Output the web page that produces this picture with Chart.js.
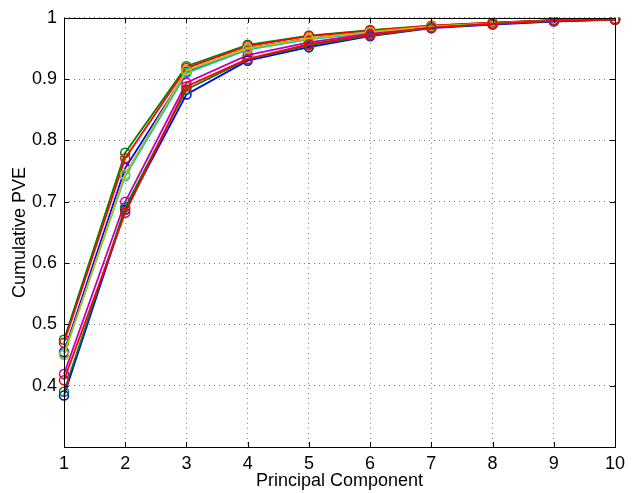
<!DOCTYPE html>
<html>
<head>
<meta charset="utf-8">
<script src="https://cdn.jsdelivr.net/npm/chart.js@4"></script>
<style>
    html, body { margin: 0; padding: 0; background: #fff; }
    #wrap { width: 636px; height: 493px; }
</style>
</head>
<body>
<div id="wrap"><canvas id="myChart" width="636" height="493"></canvas></div>
<script>
// principal component index
const components = [1, 2, 3, 4, 5, 6, 7, 8, 9, 10];

// cumulative PVE, one array per run
const blue1    = [0.455, 0.755, 0.912, 0.950, 0.966, 0.977, 0.986, 0.991, 0.996, 0.997];
const green1   = [0.475, 0.780, 0.921, 0.956, 0.971, 0.980, 0.987, 0.992, 0.996, 0.998];
const red1     = [0.470, 0.771, 0.918, 0.954, 0.970, 0.979, 0.987, 0.992, 0.996, 0.998];
const cyan1    = [0.452, 0.742, 0.910, 0.948, 0.965, 0.976, 0.985, 0.991, 0.995, 0.997];
const magenta1 = [0.419, 0.700, 0.894, 0.939, 0.960, 0.974, 0.984, 0.990, 0.995, 0.997];
const yellow1  = [0.450, 0.745, 0.914, 0.950, 0.966, 0.977, 0.986, 0.991, 0.995, 0.997];
const blue2    = [0.384, 0.687, 0.875, 0.930, 0.952, 0.970, 0.983, 0.989, 0.994, 0.997];
const green2   = [0.390, 0.691, 0.883, 0.932, 0.955, 0.971, 0.984, 0.990, 0.995, 0.997];
const red2     = [0.409, 0.682, 0.888, 0.933, 0.957, 0.972, 0.984, 0.990, 0.995, 0.997];

const yTicks = [0.4, 0.5, 0.6, 0.7, 0.8, 0.9, 1];

const font = { family: 'Liberation Sans, Arial, sans-serif', size: 18 };

const makeSet = (values, color) =>
{
    return {
        data: values,
        borderColor: color,
        backgroundColor: 'rgba(0,0,0,0)',
        borderWidth: 1.8,
        pointRadius: 4.5,
        pointBorderWidth: 1.5,
        pointBorderColor: color,
        pointBackgroundColor: 'rgba(0,0,0,0)',
        tension: 0
    };
};

// matlab-like box and inward tick marks
const boxPlugin =
{
    id: 'box',
    afterDraw(chart)
    {
        const ctx = chart.ctx;
        const a = chart.chartArea;
        const xs = chart.scales.x;
        const ys = chart.scales.y;
        ctx.save();
        ctx.strokeStyle = '#000';
        ctx.lineWidth = 1;
        ctx.beginPath();
        for (let i = 0; i < components.length; i++)
        {
            const px = Math.round(xs.getPixelForValue(i)) + 0.5;
            ctx.moveTo(px, a.bottom);
            ctx.lineTo(px, a.bottom - 5);
            ctx.moveTo(px, a.top);
            ctx.lineTo(px, a.top + 5);
        }
        for (let i = 0; i < yTicks.length; i++)
        {
            const py = Math.round(ys.getPixelForValue(yTicks[i])) + 0.5;
            ctx.moveTo(a.left, py);
            ctx.lineTo(a.left + 5, py);
            ctx.moveTo(a.right, py);
            ctx.lineTo(a.right - 5, py);
        }
        ctx.stroke();
        ctx.strokeRect(Math.round(a.left) + 0.5, Math.round(a.top) + 0.5,
            Math.round(a.right - a.left), Math.round(a.bottom - a.top));
        ctx.restore();
    }
};

const ctx = document.getElementById('myChart');

// chart.js paints the first dataset on top, so the last plotted run goes first
new Chart(ctx,
{
    type: 'line',
    data:
    {
        labels: components,
        datasets:
        [
            makeSet(red2, '#ff0000'),
            makeSet(green2, '#008000'),
            makeSet(blue2, '#0000ff'),
            makeSet(yellow1, '#bfbf00'),
            makeSet(magenta1, '#bf00bf'),
            makeSet(cyan1, '#00bfbf'),
            makeSet(red1, '#ff0000'),
            makeSet(green1, '#008000'),
            makeSet(blue1, '#0000ff')
        ]
    },
    plugins: [boxPlugin],
    options:
    {
        responsive: false,
        animation: false,
        layout: { padding: { top: 14, right: 21, left: 0, bottom: 0 } },
        plugins:
        {
            legend: { display: false },
            tooltip: { enabled: false }
        },
        scales:
        {
            x:
            {
                type: 'category',
                offset: false,
                grid:
                {
                    color: '#777',
                    lineWidth: 1,
                    drawTicks: false
                },
                border: { display: false, dash: [1, 4] },
                ticks: { color: '#000', font: font, padding: 6, maxRotation: 0 },
                title:
                {
                    display: true,
                    text: 'Principal Component',
                    color: '#000',
                    font: font,
                    padding: { top: 0, bottom: 1 }
                },
                afterFit(scale) { scale.height = 46; }
            },
            y:
            {
                min: 0.3,
                max: 1,
                grid:
                {
                    color: '#777',
                    lineWidth: 1,
                    drawTicks: false
                },
                border: { display: false, dash: [1, 4] },
                ticks:
                {
                    color: '#000',
                    font: font,
                    padding: 7,
                    callback: (v) => String(+v.toFixed(1))
                },
                afterBuildTicks(scale)
                {
                    scale.ticks = yTicks.map((v) => ({ value: v }));
                },
                title:
                {
                    display: true,
                    text: 'Cumulative PVE',
                    color: '#000',
                    font: font,
                    padding: { top: 9, bottom: 2 }
                },
                afterFit(scale) { scale.width = 64; }
            }
        }
    }
});
</script>
</body>
</html>
